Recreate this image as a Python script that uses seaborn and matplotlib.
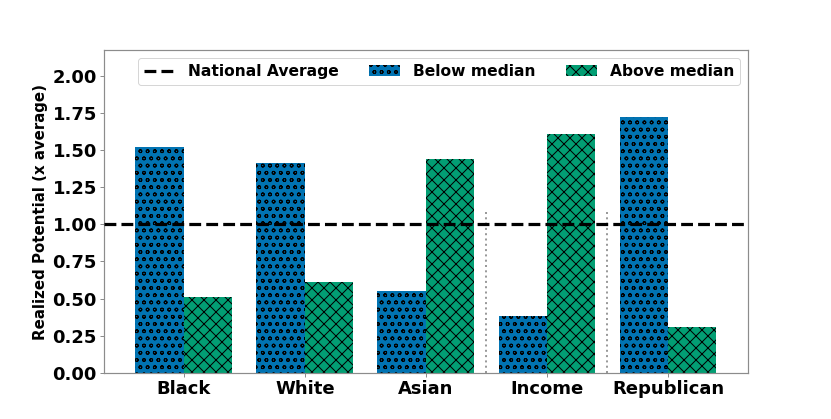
import matplotlib
matplotlib.use("Agg")
import matplotlib.pyplot as plt
from matplotlib.patches import Patch
import pandas as pd
import seaborn as sns

# values
groups = ["Black", "White", "Asian", "Income", "Republican"]
below_median = [1.52, 1.41, 0.55, 0.38, 1.72]
above_median = [0.51, 0.61, 1.44, 1.61, 0.31]
series_names = ["Below median", "Above median"]
y_ticks = [0.0, 0.25, 0.5, 0.75, 1.0, 1.25, 1.5, 1.75, 2.0]
national_average = 1.0

DPI = 216


def px(v):
    # sizes are thought of in pixels of the final image
    return v * 72 / DPI


plt.rcParams.update({
    "font.family": ["DejaVu Sans"],
    "font.weight": "bold",
    "axes.linewidth": px(1.2),
    "axes.edgecolor": "#8c8c8c",
    "patch.linewidth": px(1.0),
    "hatch.linewidth": px(1.0),
    "hatch.color": "black",
    "xtick.major.size": px(3.5),
    "ytick.major.size": px(3.5),
    "xtick.major.width": px(1.0),
    "ytick.major.width": px(1.0),
    "xtick.major.pad": px(3.5),
    "ytick.major.pad": px(3.5),
    "axes.labelpad": px(4),
})

df = pd.DataFrame({
    "group": groups * 2,
    "series": [series_names[0]] * len(groups) + [series_names[1]] * len(groups),
    "value": below_median + above_median,
})

palette = sns.color_palette("colorblind")
colors = [palette[0], palette[2]]
# hatch density depends on dpi, these give ~7px circles and ~12px diamonds
hatches = ["ooooo", "xxxxxx"]

fig, ax = plt.subplots(figsize=(831 / DPI, 419 / DPI), dpi=DPI)

sns.barplot(data=df, x="group", y="value", hue="series", hue_order=series_names,
            palette=colors, saturation=1, errorbar=None, width=0.8,
            legend=False, ax=ax)

for cont, hatch in zip(ax.containers, hatches):
    for bar in cont:
        bar.set_hatch(hatch)
        bar.set_edgecolor("black")
        bar.set_linewidth(0)

line = ax.axhline(national_average, color="black", ls="--", lw=px(3.2), zorder=3)

# separators between the race groups and the other splits
for xpos in [2.5, 3.5]:
    ax.axvline(xpos, ymax=0.5, color="#9a9a9a", ls=":", lw=px(2))

ax.set_xlim(-0.66, 4.66)
ax.set_ylim(0, 2.17)
ax.set_yticks(y_ticks)
ax.set_yticklabels([f"{t:.2f}" for t in y_ticks])
ax.tick_params(axis="both", labelsize=px(18), color="#8c8c8c")
for lab in ax.get_xticklabels() + ax.get_yticklabels():
    lab.set_fontweight("bold")

ax.set_xlabel("")
ax.set_ylabel("Realized Potential (x average)", fontsize=px(15), fontweight="bold")

handles = [line]
for c, h in zip(colors, hatches):
    handles.append(Patch(facecolor=c, edgecolor="black", hatch=h, linewidth=0))
labels = ["National Average"] + series_names
ax.legend(handles, labels, loc="upper right", ncol=3,
          prop={"size": px(15.5), "weight": "bold"})

fig.savefig("out.png", dpi=DPI)
